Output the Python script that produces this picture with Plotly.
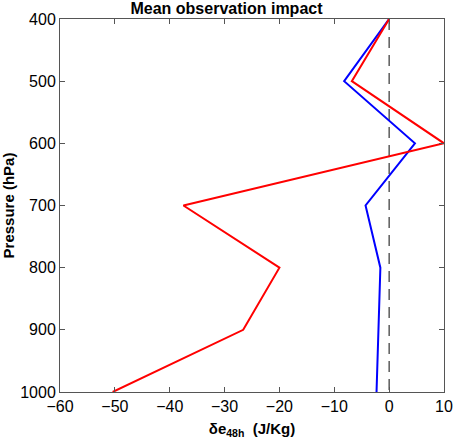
import plotly.graph_objects as go

# pressure levels (hPa)
pressure = [400, 500, 600, 700, 800, 900, 1000]

# mean observation impact per level (J/Kg)
red_impact = [0.0, -6.8, 10.0, -37.5, -20.0, -26.6, -50.4]
blue_impact = [0.0, -8.2, 4.7, -4.3, -1.6, -1.9, -2.3]

x_ticks = [-60, -50, -40, -30, -20, -10, 0, 10]
y_ticks = [400, 500, 600, 700, 800, 900, 1000]

axis_col = "#555555"
font = "Liberation Sans, Arial, sans-serif"

fig = go.Figure()

# zero reference line
fig.add_trace(go.Scatter(x=[0, 0], y=[pressure[0], pressure[-1]], mode="lines",
                         line=dict(color="#333333", width=1.2, dash="11px,7px"),
                         showlegend=False, hoverinfo="skip"))

fig.add_trace(go.Scatter(x=blue_impact, y=pressure, mode="lines",
                         line=dict(color="#0000ff", width=2), showlegend=False))
fig.add_trace(go.Scatter(x=red_impact, y=pressure, mode="lines",
                         line=dict(color="#ff0000", width=2), showlegend=False))

fig.update_layout(
    width=453, height=442,
    margin=dict(l=60, r=9, t=19, b=50),
    plot_bgcolor="white", paper_bgcolor="white",
    font=dict(family=font, size=16, color="black"),
    title=dict(text="<b>Mean observation impact</b>", x=0.5, xanchor="center",
               y=1 - 8 / 442, yanchor="middle", font=dict(size=16)),
)

fig.update_xaxes(
    range=[-60, 10], tickvals=x_ticks, ticktext=[str(v).replace("-", "\u2212") for v in x_ticks],
    showgrid=False, zeroline=False, showline=True, linecolor=axis_col, linewidth=1,
    mirror="ticks", ticks="inside", ticklen=5, tickcolor=axis_col, automargin=False,
    title=dict(text="<b>\u03b4e<sub>48h</sub>  (J/Kg)</b>", standoff=9, font=dict(size=15)),
)
fig.update_yaxes(
    range=[1000, 400], tickvals=y_ticks,
    showgrid=False, zeroline=False, showline=True, linecolor=axis_col, linewidth=1,
    mirror="ticks", ticks="inside", ticklen=5, tickcolor=axis_col, automargin=False,
    title=dict(text="<b>Pressure (hPa)</b>", standoff=2, font=dict(size=15)),
)

# drop the default page margin so the figure sits at the window's corner
fig.write_html("out.html", config={"displayModeBar": False},
               post_script="document.body.style.margin='0';")
